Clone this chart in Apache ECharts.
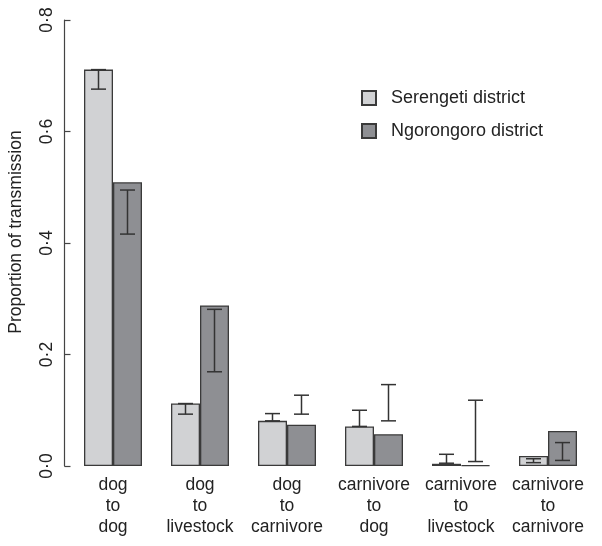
<!DOCTYPE html>
<html>
<head>
<meta charset="utf-8">
<script src="https://cdn.jsdelivr.net/npm/echarts@6/dist/echarts.min.js"></script>
<style>html,body{margin:0;padding:0;background:#fff;}#c{width:602px;height:546px;}</style>
</head>
<body>
<div id="c"></div>
<script>
const categories = ['dog\nto\ndog', 'dog\nto\nlivestock', 'dog\nto\ncarnivore', 'carnivore\nto\ndog', 'carnivore\nto\nlivestock', 'carnivore\nto\ncarnivore'];
const seriesNames = ['Serengeti district', 'Ngorongoro district'];
const serengeti = [0.711, 0.112, 0.081, 0.071, 0.004, 0.018];
const ngorongoro = [0.509, 0.288, 0.074, 0.057, 0.0015, 0.063];
const serengetiLow = [0.676, 0.093, 0.081, 0.071, 0.005, 0.006];
const serengetiHigh = [0.711, 0.112, 0.094, 0.100, 0.021, 0.013];
const ngorongoroLow = [0.416, 0.169, 0.093, 0.081, 0.008, 0.010];
const ngorongoroHigh = [0.495, 0.281, 0.127, 0.146, 0.118, 0.042];
const yTicks = [0, 0.2, 0.4, 0.6, 0.8];

const FONT = 'Liberation Sans, Arial, Helvetica, sans-serif';
const LIGHT = '#d1d2d4';
const DARK = '#8e8f93';
const EDGE = '#3a3a3a';
const BARW = 29;

function errData(lo, hi) {
  return lo.map((v, i) => [i, v, hi[i]]);
}
function errRender(side) {
  return function (params, api) {
    const cat = api.value(0);
    const pLo = api.coord([cat, api.value(1)]);
    const pHi = api.coord([cat, api.value(2)]);
    const x = pLo[0] + side * BARW / 2;
    const cap = 7.5;
    const st = { stroke: '#333', lineWidth: 1.5 };
    return {
      type: 'group',
      children: [
        { type: 'line', shape: { x1: x, y1: pLo[1], x2: x, y2: pHi[1] }, style: st },
        { type: 'line', shape: { x1: x - cap, y1: pLo[1], x2: x + cap, y2: pLo[1] }, style: st },
        { type: 'line', shape: { x1: x - cap, y1: pHi[1], x2: x + cap, y2: pHi[1] }, style: st }
      ]
    };
  };
}

const chart = echarts.init(document.getElementById('c'), null, { renderer: 'canvas' });
chart.setOption({
  animation: false,
  backgroundColor: '#fff',
  textStyle: { fontFamily: FONT },
  grid: { left: 69.5, right: 10.5, top: 20, bottom: 80, containLabel: false, outerBoundsMode: 'none' },
  legend: {
    orient: 'vertical',
    left: 356,
    top: 84,
    itemWidth: 14,
    itemHeight: 14,
    itemGap: 15,
    icon: 'rect',
    data: seriesNames,
    textStyle: { fontSize: 18, color: '#222', fontFamily: FONT, padding: [0, 0, 0, 10], lineHeight: 18 }
  },
  xAxis: {
    type: 'category',
    data: categories,
    axisLine: { show: false },
    axisTick: { show: false },
    axisLabel: { fontSize: 17.5, lineHeight: 21, color: '#222', margin: 9, fontFamily: FONT, interval: 0 }
  },
  yAxis: {
    type: 'value',
    min: 0,
    max: 0.8,
    interval: 0.2,
    offset: 5,
    splitLine: { show: false },
    axisLine: { show: true, lineStyle: { color: '#444', width: 1.2 } },
    axisTick: { show: true, inside: true, length: 6, lineStyle: { color: '#444', width: 1.2 } },
    axisLabel: {
      rotate: 90, fontSize: 17.5, color: '#222', margin: 8, fontFamily: FONT,
      formatter: v => v.toFixed(1).replace('.', '·')
    },
    name: 'Proportion of transmission',
    nameLocation: 'middle',
    nameRotate: 90,
    nameGap: 39,
    nameTextStyle: { fontSize: 17.5, color: '#222', fontFamily: FONT, padding: [0, 0, 0, 22] }
  },
  series: [
    {
      name: seriesNames[0], type: 'bar', data: serengeti, barWidth: BARW, barGap: '0%',
      itemStyle: { color: LIGHT, borderColor: EDGE, borderWidth: 1.3 }
    },
    {
      name: seriesNames[1], type: 'bar', data: ngorongoro, barWidth: BARW, barGap: '0%',
      itemStyle: { color: DARK, borderColor: EDGE, borderWidth: 1.3 }
    },
    {
      type: 'custom', renderItem: errRender(-1), data: errData(serengetiLow, serengetiHigh),
      encode: { x: 0, y: [1, 2] }, z: 10, silent: true
    },
    {
      type: 'custom', renderItem: errRender(1), data: errData(ngorongoroLow, ngorongoroHigh),
      encode: { x: 0, y: [1, 2] }, z: 10, silent: true
    }
  ]
});
</script>
</body>
</html>
